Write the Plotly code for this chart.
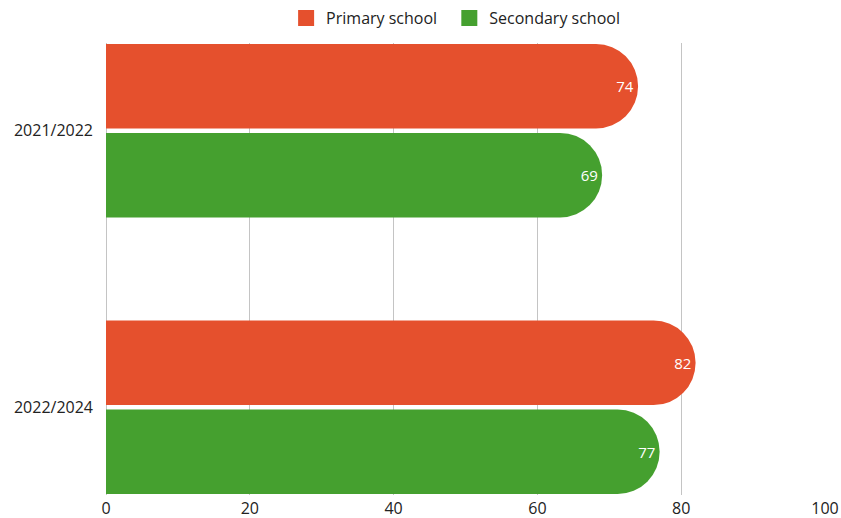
import plotly.graph_objects as go

categories = ["2021/2022", "2022/2024"]
primary = [74, 82]
secondary = [69, 77]
tick_vals = [0, 20, 40, 60, 80, 100]
series_names = ["Primary school", "Secondary school"]

RED = "#E5502D"
GREEN = "#45A02F"
FONT = "Open Sans, Noto Sans, sans-serif"
TXT = "#222222"

fig = go.Figure()
for name, vals, col in [(series_names[0], primary, RED), (series_names[1], secondary, GREEN)]:
    fig.add_trace(go.Bar(
        y=categories, x=vals, name=name, orientation="h", showlegend=False,
        marker=dict(color=col, cornerradius="50%", line=dict(width=0)),
        text=vals, textposition="inside", insidetextanchor="end",
        textfont=dict(color="white", size=15, family=FONT),
    ))
# legend entries with square swatches
for name, col, lg in [(series_names[0], RED, "legend"), (series_names[1], GREEN, "legend2")]:
    fig.add_trace(go.Scatter(
        x=[None], y=[None], mode="markers", name=name, legend=lg,
        marker=dict(symbol="square", size=18, color=col),
    ))

leg_common = dict(orientation="h", xanchor="left", y=1.055, yanchor="middle",
                  font=dict(size=16, color=TXT), itemwidth=30,
                  bgcolor="rgba(0,0,0,0)")

fig.update_layout(
    width=841, height=518,
    margin=dict(l=106, r=16, t=43, b=23, autoexpand=False),
    paper_bgcolor="white", plot_bgcolor="white",
    barmode="group", bargap=0.357, bargroupgap=0.05,
    font=dict(family=FONT, size=16, color=TXT),
    legend=dict(x=0.2505, **leg_common),
    legend2=dict(x=0.4775, **leg_common),
    xaxis=dict(range=[0, 100], tickvals=tick_vals, showgrid=True,
               gridcolor="#C4C4C4", gridwidth=1, zeroline=True,
               zerolinecolor="#C4C4C4", zerolinewidth=1, showline=False,
               ticks="", automargin=False, ticklabelstandoff=2,
               tickfont=dict(size=16, color=TXT)),
    yaxis=dict(autorange=False, range=[1.317, -0.317], showgrid=False,
               ticks="", showline=False, automargin=False, ticklabelstandoff=12,
               tickfont=dict(size=16, color=TXT)),
)

fig.write_html("out.html")
